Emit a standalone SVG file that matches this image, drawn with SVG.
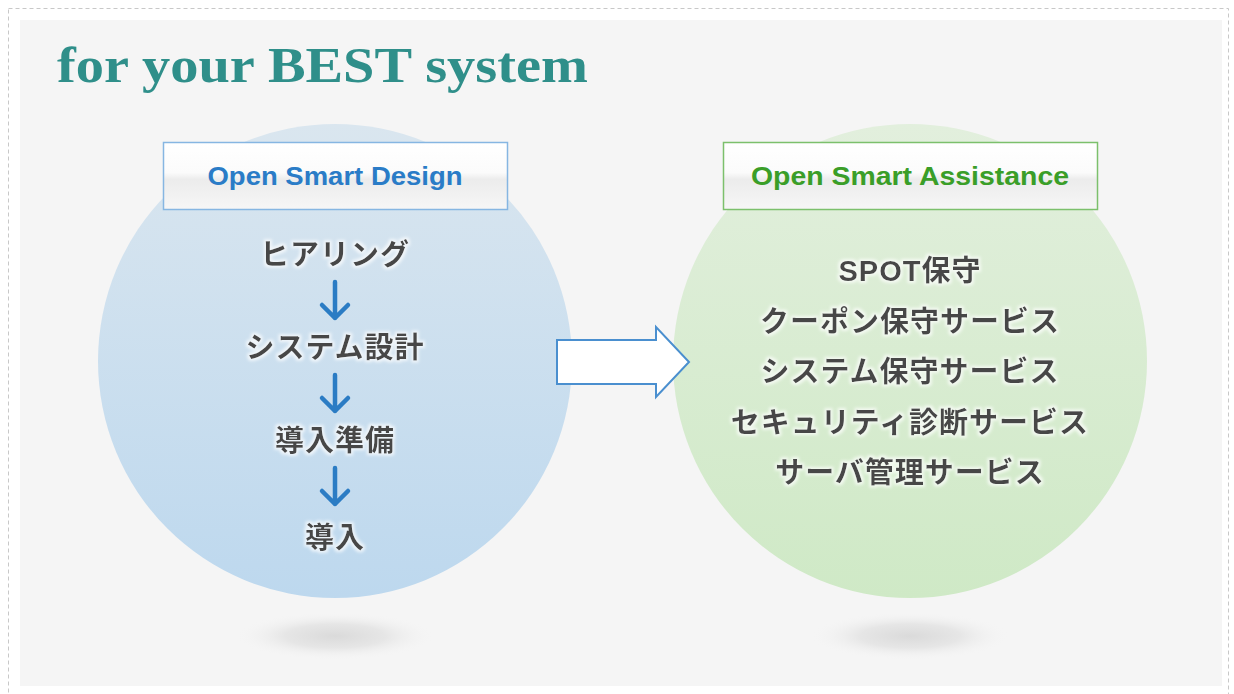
<svg xmlns="http://www.w3.org/2000/svg" width="1234" height="694" viewBox="0 0 1234 694">
<defs>
<linearGradient id="gBlue" x1="0" y1="0" x2="0" y2="1">
<stop offset="0" stop-color="#dae6ef"/>
<stop offset="1" stop-color="#bdd8ee"/>
</linearGradient>
<linearGradient id="gGreen" x1="0" y1="0" x2="0" y2="1">
<stop offset="0" stop-color="#e2efdd"/>
<stop offset="1" stop-color="#cfe9c6"/>
</linearGradient>
<linearGradient id="gBox" x1="0" y1="0" x2="0" y2="1">
<stop offset="0" stop-color="#ffffff"/>
<stop offset="0.45" stop-color="#fbfbfb"/>
<stop offset="0.55" stop-color="#ececec"/>
<stop offset="1" stop-color="#f6f6f6"/>
</linearGradient>
<radialGradient id="gShadow" cx="0.5" cy="0.5" r="0.5">
<stop offset="0" stop-color="#dadada"/>
<stop offset="0.5" stop-color="#e6e6e6"/>
<stop offset="1" stop-color="#f5f5f5" stop-opacity="0"/>
</radialGradient>
<filter id="glow" x="-10%" y="-30%" width="120%" height="160%">
<feMorphology in="SourceAlpha" operator="dilate" radius="1.5" result="d"/>
<feGaussianBlur in="d" stdDeviation="1.5" result="b"/>
<feFlood flood-color="#ffffff" flood-opacity="0.7"/>
<feComposite in2="b" operator="in" result="w"/>
<feMerge><feMergeNode in="w"/><feMergeNode in="SourceGraphic"/></feMerge>
</filter>
</defs>
<style>
.jp{font-family:"Liberation Sans","Noto Sans CJK JP",sans-serif;font-weight:bold;font-size:29px;fill:#474747;text-anchor:middle;letter-spacing:1px;}
.lbl{font-family:"Liberation Sans","Noto Sans",sans-serif;font-size:26px;font-weight:bold;text-anchor:middle;}
.flow{fill:none;stroke:#2b7cc4;stroke-width:4.5;stroke-linecap:round;stroke-linejoin:round;}
</style>
<rect x="0" y="0" width="1234" height="694" fill="#ffffff"/>
<rect x="8.5" y="8.5" width="1220" height="690" fill="none" stroke="#c8c8c8" stroke-width="1" stroke-dasharray="4,3"/>
<rect x="20" y="20" width="1202" height="666" fill="#f5f5f5"/>
<text x="57" y="82" font-family="Liberation Serif, serif" font-size="51" font-weight="bold" fill="#2f8f8a" textLength="531" lengthAdjust="spacingAndGlyphs">for your BEST system</text>

<g id="shadows">
<ellipse cx="335" cy="636" rx="100" ry="24" fill="url(#gShadow)"/>
<ellipse cx="910" cy="636" rx="100" ry="24" fill="url(#gShadow)"/>
</g>

<g id="design">
<circle cx="335" cy="361" r="237" fill="url(#gBlue)"/>
<rect x="163.5" y="142.5" width="344" height="67" fill="url(#gBox)" stroke="#86b6e2" stroke-width="1.5"/>
<text class="lbl" x="335" y="185" fill="#2a7cc7" textLength="255" lengthAdjust="spacingAndGlyphs">Open Smart Design</text>
<g filter="url(#glow)">
<text class="jp" x="335" y="265">ヒアリング</text>
<text class="jp" x="335" y="358">システム設計</text>
<text class="jp" x="335" y="451">導入準備</text>
<text class="jp" x="335" y="548">導入</text>
</g>
</g>

<g id="assistance">
<circle cx="910" cy="361" r="237" fill="url(#gGreen)"/>
<rect x="723.5" y="142.5" width="374" height="67" fill="url(#gBox)" stroke="#7cc06c" stroke-width="1.5"/>
<text class="lbl" x="910" y="185" fill="#3a9e28" textLength="318" lengthAdjust="spacingAndGlyphs">Open Smart Assistance</text>
<g filter="url(#glow)">
<text class="jp" x="910" y="281">SPOT保守</text>
<text class="jp" x="910" y="332">クーポン保守サービス</text>
<text class="jp" x="910" y="382">システム保守サービス</text>
<text class="jp" x="910" y="433">セキュリティ診断サービス</text>
<text class="jp" x="910" y="483">サーバ管理サービス</text>
</g>
</g>

<g id="connectors">
<path class="flow" d="M335 282 V318 M322 305 L335 318 L348 305"/>
<path class="flow" d="M335 375 V411 M322 398 L335 411 L348 398"/>
<path class="flow" d="M335 468 V504 M322 491 L335 504 L348 491"/>
<path d="M557 340 H656 V327 L689 362 L656 397 V384 H557 Z" fill="#ffffff" stroke="#4a8fcf" stroke-width="2" stroke-linejoin="miter"/>
</g>
</svg>
